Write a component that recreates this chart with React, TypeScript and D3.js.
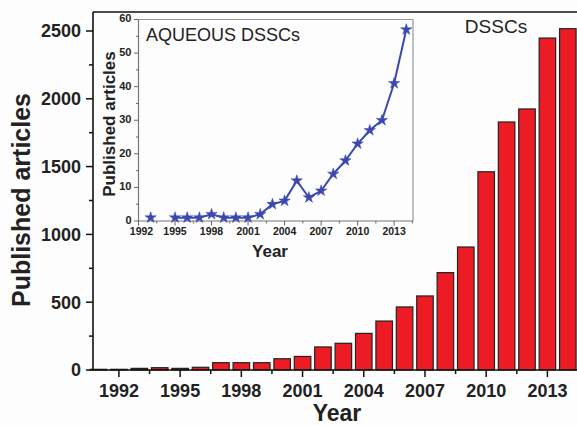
import React from "react";
import * as d3 from "d3";

const years: number[] = [1991,1992,1993,1994,1995,1996,1997,1998,1999,2000,2001,2002,2003,2004,2005,2006,2007,2008,2009,2010,2011,2012,2013,2014];
const dsscArticles: number[] = [5,5,12,17,12,20,54,54,54,83,100,170,197,270,361,465,546,718,907,1462,1829,1925,2448,2517];

const aqYears: number[] = [1993,1994,1995,1996,1997,1998,1999,2000,2001,2002,2003,2004,2005,2006,2007,2008,2009,2010,2011,2012,2013,2014];
const aqArticles: (number | null)[] = [1,null,1,1,1,2,1,1,1,2,5,6,12,7,9,14,18,23,27,30,41,57];

const mainYTicks: number[] = [0,500,1000,1500,2000,2500];
const mainXTicks: number[] = [1992,1995,1998,2001,2004,2007,2010,2013];
const insetYTicks: number[] = [0,10,20,30,40,50,60];
const insetXTicks: number[] = [1992,1995,1998,2001,2004,2007,2010,2013];

const W = 577, H = 425;
const FONT = "'Liberation Sans', Arial, sans-serif";

export default function App() {
  // main chart scales
  const x = d3.scaleLinear().domain([1990.73, 2014.45]).range([93, 577]);
  const y = d3.scaleLinear().domain([0, 2500]).range([370, 31]);
  const yTop = y.invert(12);
  const barW = (x(1) - x(0)) * 0.81;
  const yMinor = d3.range(250, 2600, 500);
  const xMinor = mainXTicks.map((t) => t + 1.5).filter((t) => t > 1990.73 && t < 2014.45);

  // inset scales
  const xi = d3.scaleLinear().domain([1992, 2014.55]).range([138.5, 413]);
  const yi = d3.scaleLinear().domain([0, 60]).range([221, 19.5]);
  const yiMinor = d3.range(5, 60, 10);
  const xiMinor = insetXTicks.map((t) => t + 1.5).filter((t) => t < 2014.55);
  const pts = aqYears.map((yr, i) => ({ yr, v: aqArticles[i] }));
  const line = d3
    .line<{ yr: number; v: number | null }>()
    .defined((d) => d.v !== null)
    .x((d) => xi(d.yr))
    .y((d) => yi(d.v as number));
  const star = d3.symbol().type(d3.symbolStar).size(40)() as string;
  const blue = "#3a48b0";

  return (
    <div style={{ position: "absolute", left: 0, top: 0 }}>
      <svg width={W} height={H} style={{ display: "block", background: "#fff" }} fontFamily={FONT}>
        <rect x={0} y={0} width={W} height={H} fill="#fdfdfd" />
        {/* bars */}
        {years.map((yr, i) => (
          <rect
            key={yr}
            x={x(yr) - barW / 2}
            y={y(dsscArticles[i])}
            width={barW}
            height={y(0) - y(dsscArticles[i])}
            fill="#ed1c24"
            stroke="#222"
            strokeWidth={1.2}
          />
        ))}
        {/* frame */}
        <line x1={x.range()[0]} x2={W} y1={y(yTop)} y2={y(yTop)} stroke="#111" strokeWidth={1.6} />
        <line x1={x.range()[0]} x2={x.range()[0]} y1={y(yTop)} y2={y(0)} stroke="#111" strokeWidth={1.6} />
        <line x1={x.range()[0]} x2={W} y1={y(0)} y2={y(0)} stroke="#111" strokeWidth={1.6} />
        {/* main y ticks */}
        {mainYTicks.map((t) => (
          <g key={t}>
            <line x1={86} x2={93} y1={y(t)} y2={y(t)} stroke="#111" strokeWidth={1.5} />
            <text x={81} y={y(t)} dy="0.36em" textAnchor="end" fontSize={18} fontWeight="bold" fill="#222">{t}</text>
          </g>
        ))}
        {yMinor.map((t) => (
          <line key={t} x1={89} x2={93} y1={y(t)} y2={y(t)} stroke="#111" strokeWidth={1.5} />
        ))}
        {/* main x ticks */}
        {mainXTicks.map((t) => (
          <g key={t}>
            <line x1={x(t)} x2={x(t)} y1={370} y2={377} stroke="#111" strokeWidth={1.5} />
            <text x={x(t)} y={397} textAnchor="middle" fontSize={18} fontWeight="bold" fill="#222">{t}</text>
          </g>
        ))}
        {xMinor.map((t) => (
          <line key={t} x1={x(t)} x2={x(t)} y1={370} y2={374} stroke="#111" strokeWidth={1.5} />
        ))}
        <text x={337} y={421} textAnchor="middle" fontSize={23} fontWeight="bold" fill="#222">Year</text>
        <text transform="translate(30,200) rotate(-90)" textAnchor="middle" fontSize={25} fontWeight="bold" fill="#222">Published articles</text>
        <text x={496} y={33} textAnchor="middle" fontSize={19} fill="#222">DSSCs</text>

        {/* inset */}
        <line x1={138.5} x2={413} y1={19.5} y2={19.5} stroke="#999" strokeWidth={1.2} />
        <line x1={413} x2={413} y1={19.5} y2={221} stroke="#999" strokeWidth={1.2} />
        <line x1={138.5} x2={138.5} y1={19.5} y2={221} stroke="#777" strokeWidth={1.2} />
        <line x1={138.5} x2={413} y1={221} y2={221} stroke="#777" strokeWidth={1.2} />
        {insetYTicks.map((t) => (
          <g key={t}>
            <line x1={134} x2={138.5} y1={yi(t)} y2={yi(t)} stroke="#666" strokeWidth={1} />
            <text x={131.5} y={yi(t) - 1} dy="0.36em" textAnchor="end" fontSize={11} fontWeight="bold" fill="#222">{t}</text>
          </g>
        ))}
        {yiMinor.map((t) => (
          <line key={t} x1={136} x2={138.5} y1={yi(t)} y2={yi(t)} stroke="#666" strokeWidth={1} />
        ))}
        {insetXTicks.map((t) => (
          <g key={t}>
            <line x1={xi(t)} x2={xi(t)} y1={221} y2={225.5} stroke="#666" strokeWidth={1} />
            <text x={xi(t) + (t === 1992 ? 3 : 0)} y={235} textAnchor="middle" fontSize={10.5} fontWeight="bold" fill="#222">{t}</text>
          </g>
        ))}
        {xiMinor.map((t) => (
          <line key={t} x1={xi(t)} x2={xi(t)} y1={221} y2={223.5} stroke="#666" strokeWidth={1} />
        ))}
        <text x={270} y={257} textAnchor="middle" fontSize={17} fontWeight="bold" fill="#222">Year</text>
        <text transform="translate(115,124) rotate(-90)" textAnchor="middle" fontSize={17} fontWeight="bold" fill="#222">Published articles</text>
        <text x={146} y={41} fontSize={18} fill="#222">AQUEOUS DSSCs</text>
        <path d={line(pts) || ""} fill="none" stroke={blue} strokeWidth={2} />
        {pts.filter((d) => d.v !== null).map((d) => (
          <path key={d.yr} d={star} transform={`translate(${xi(d.yr)},${yi(d.v as number)})`} fill={blue} stroke={blue} strokeWidth={0.5} />
        ))}
      </svg>
    </div>
  );
}
